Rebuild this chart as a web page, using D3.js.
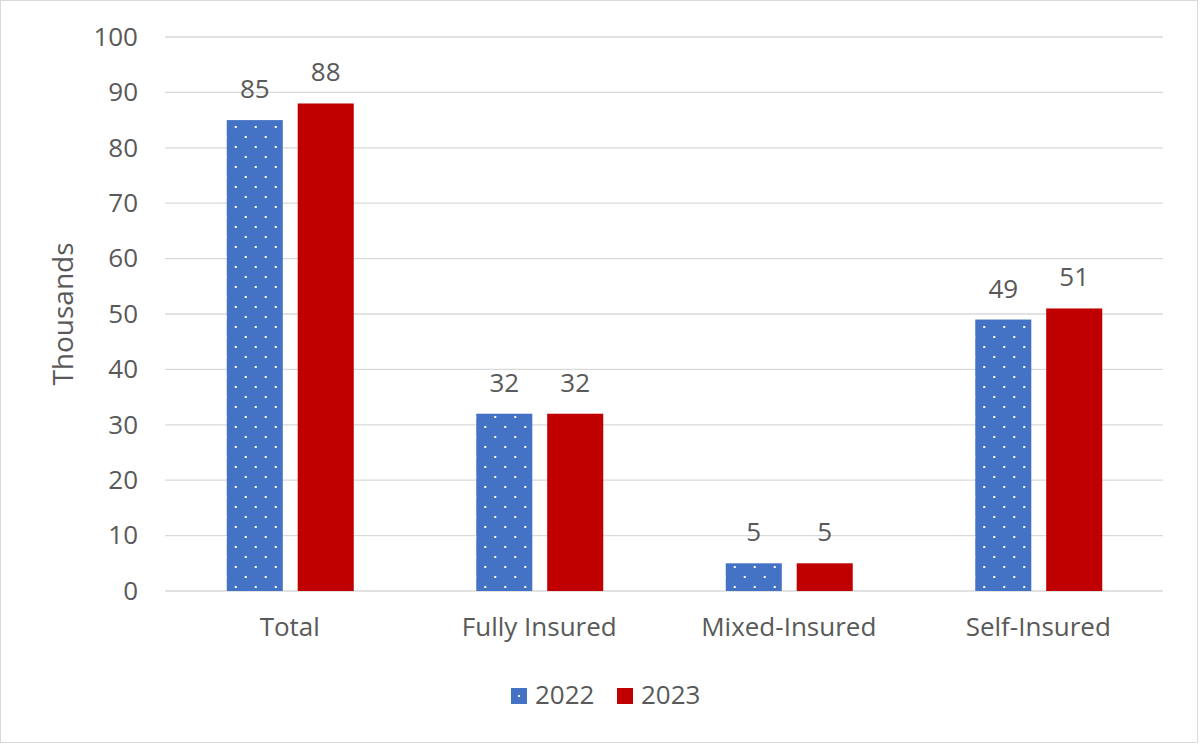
<!DOCTYPE html>
<html>
<head>
<meta charset="utf-8">
<script src="https://cdn.jsdelivr.net/npm/d3@7"></script>
<style>
  body { margin: 0; background: #fff; }
  svg text { font-family: "Open Sans", Lato, sans-serif; fill: #595959; }
</style>
</head>
<body>
<svg id="chart"></svg>
<script>
const categories = ['Total', 'Fully Insured', 'Mixed-Insured', 'Self-Insured'];
const seriesNames = ['2022', '2023'];
const values2022 = [85, 32, 5, 49];
const values2023 = [88, 32, 5, 51];
const yTicks = [0, 10, 20, 30, 40, 50, 60, 70, 80, 90, 100];

const width = 1200, height = 745;
const margin = { top: 37, right: 37, bottom: 154, left: 165 };
const fontSize = 26;

const svg = d3.select('#chart').attr('width', width).attr('height', height);

// outer border
svg.append('rect')
  .attr('x', 0.5).attr('y', 0.5)
  .attr('width', width - 3).attr('height', height - 3)
  .attr('fill', '#fff').attr('stroke', '#d9d9d9');

// dot pattern for 2022
const defs = svg.append('defs');
const pat = defs.append('pattern')
  .attr('id', 'dots')
  .attr('patternUnits', 'userSpaceOnUse')
  .attr('width', 20).attr('height', 20)
  .attr('x', 228).attr('y', 126);
pat.append('rect').attr('width', 20).attr('height', 20).attr('fill', '#4472C4');
pat.append('rect').attr('x', 0).attr('y', 0).attr('width', 2).attr('height', 2).attr('fill', '#fff');
pat.append('rect').attr('x', 10).attr('y', 10).attr('width', 2).attr('height', 2).attr('fill', '#fff');

const x0 = d3.scaleBand()
  .domain(categories)
  .range([margin.left, width - margin.right]);

const x1 = d3.scaleBand()
  .domain(seriesNames)
  .range([0, 127])
  .paddingInner(0.21);

const y = d3.scaleLinear()
  .domain([0, 100])
  .range([height - margin.bottom, margin.top]);

// gridlines
svg.append('g')
  .selectAll('line')
  .data(yTicks)
  .enter()
  .append('line')
  .attr('x1', margin.left)
  .attr('x2', width - margin.right)
  .attr('y1', d => y(d))
  .attr('y2', d => y(d))
  .attr('stroke', '#d9d9d9')
  .attr('stroke-width', 1.3);

// y axis labels
const yAxis = svg.append('g')
  .attr('transform', `translate(${margin.left},0)`)
  .call(d3.axisLeft(y).tickValues(yTicks).tickSize(0).tickPadding(27));
yAxis.select('.domain').remove();
yAxis.selectAll('text').attr('font-size', fontSize).style('font-family', '"Open Sans", sans-serif').attr('fill', '#595959');

// x axis labels
const xAxis = svg.append('g')
  .attr('transform', `translate(0,${y(0)})`)
  .call(d3.axisBottom(x0).tickSize(0).tickPadding(27));
xAxis.select('.domain').remove();
xAxis.selectAll('text').attr('font-size', fontSize).style('font-family', '"Open Sans", sans-serif').attr('fill', '#595959');

// y title
svg.append('text')
  .attr('transform', `translate(73,${(y(0) + y(100)) / 2}) rotate(-90)`)
  .attr('text-anchor', 'middle')
  .attr('font-size', 28)
  .text('Thousands');

const rows = categories.map((c, i) => ({ cat: c, vals: [values2022[i], values2023[i]] }));
const fills = ['url(#dots)', '#C00000'];

const groups = svg.append('g')
  .selectAll('g')
  .data(rows)
  .enter()
  .append('g')
  .attr('transform', d => `translate(${x0(d.cat) + x0.bandwidth() / 2 - 63},0)`);

groups.selectAll('rect')
  .data(d => d.vals.map((v, i) => ({ name: seriesNames[i], v, i })))
  .enter()
  .append('rect')
  .attr('x', d => x1(d.name))
  .attr('y', d => y(d.v))
  .attr('width', x1.bandwidth())
  .attr('height', d => y(0) - y(d.v))
  .attr('fill', d => fills[d.i]);

groups.selectAll('text.lbl')
  .data(d => d.vals.map((v, i) => ({ name: seriesNames[i], v })))
  .enter()
  .append('text')
  .attr('class', 'lbl')
  .attr('x', d => x1(d.name) + x1.bandwidth() / 2)
  .attr('y', d => y(d.v) - 22)
  .attr('text-anchor', 'middle')
  .attr('font-size', fontSize)
  .text(d => d.v);

// legend
const legend = svg.append('g').attr('transform', 'translate(511,688)');
const legendX = [0, 106];
seriesNames.forEach((s, i) => {
  const g = legend.append('g').attr('transform', `translate(${legendX[i]},0)`);
  g.append('rect').attr('width', 16).attr('height', 16).attr('fill', i === 0 ? '#4472C4' : '#C00000');
  if (i === 0) g.append('rect').attr('x', 7).attr('y', 7).attr('width', 2).attr('height', 2).attr('fill', '#fff');
  g.append('text').attr('x', 24).attr('y', 16).attr('font-size', fontSize).text(s);
});
</script>
</body>
</html>
